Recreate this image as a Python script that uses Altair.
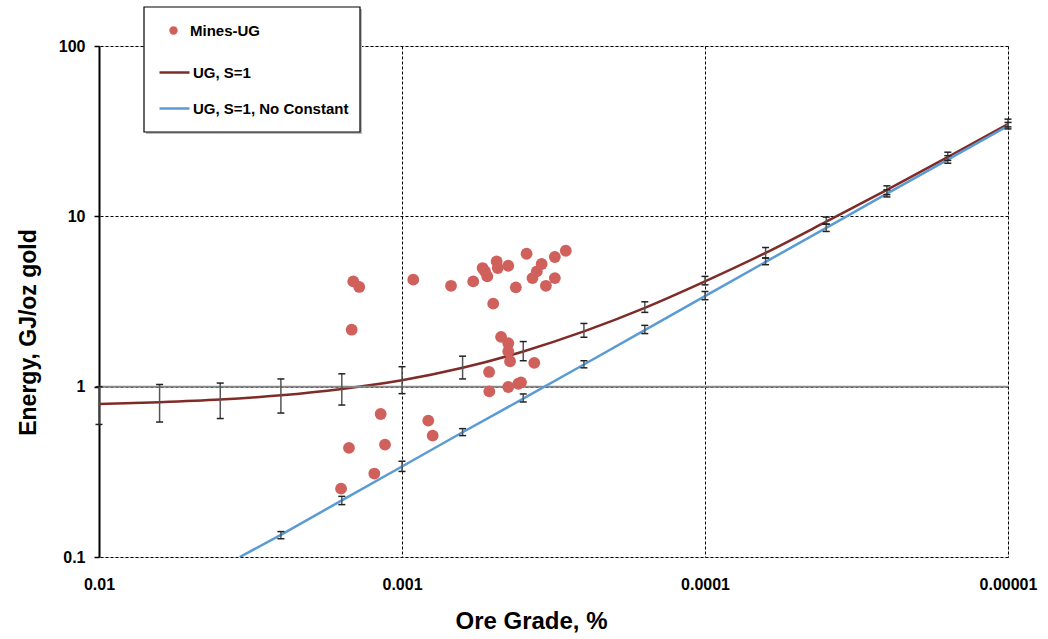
import altair as alt
import pandas as pd

# ---- data ----
mine_grade = [0.001448, 0.001384, 0.001466, 0.000918, 0.000689, 0.000582, 0.000542,
              0.000532, 0.000523, 0.000487, 0.000483, 0.000446, 0.000421, 0.000388,
              0.000371, 0.000359, 0.000346, 0.000335, 0.000313, 0.000313, 0.000288,
              0.000500, 0.000471, 0.000446, 0.000446, 0.000440, 0.000366, 0.000516,
              0.000515, 0.000446, 0.000413, 0.000405, 0.001176, 0.000819, 0.000792,
              0.001496, 0.001138, 0.001234, 0.001589]
mine_energy = [4.15, 3.85, 2.16, 4.25, 3.91, 4.15, 4.97, 4.75, 4.44, 5.44, 4.97, 5.13,
               3.83, 6.03, 4.34, 4.75, 5.25, 3.91, 4.34, 5.77, 6.28, 3.07, 1.96, 1.80,
               1.61, 1.41, 1.38, 1.22, 0.938, 0.996, 1.04, 1.06, 0.691, 0.632, 0.516,
               0.437, 0.457, 0.309, 0.252]

grade = [0.01, 0.00631, 0.00398, 0.00251, 0.00158, 0.001, 0.000631, 0.000398,
         0.000251, 0.000158, 0.0001, 6.31e-5, 3.98e-5, 2.51e-5, 1.58e-5, 1e-5]
ug_fit = [0.79, 0.81, 0.84, 0.89, 0.97, 1.09, 1.29, 1.61, 2.11, 2.9, 4.15, 6.1,
          9.3, 14.3, 22.3, 34.8]
ug_lo = [0.6, 0.62, 0.65, 0.70, 0.78, 0.91, 1.11, 1.42, 1.95, 2.73, 3.96, 5.69,
         9.0, 13.4, 21.3, 33.5]
ug_hi = [1.0, 1.03, 1.05, 1.11, 1.19, 1.31, 1.51, 1.84, 2.35, 3.15, 4.44, 6.56,
         9.9, 15.1, 23.8, 37.2]

nc_grade = [0.00343, 0.00251, 0.00158, 0.001, 0.000631, 0.000398, 0.000251,
            0.000158, 0.0001, 6.31e-5, 3.98e-5, 2.51e-5, 1.58e-5, 1e-5]
nc_fit = [0.1, 0.135, 0.215, 0.34, 0.54, 0.85, 1.35, 2.15, 3.4, 5.4, 8.55, 13.6,
          21.5, 34.0]
nc_bar_grade = nc_grade[1:]
nc_lo = [0.128, 0.203, 0.318, 0.516, 0.813, 1.29, 2.05, 3.24, 5.2, 8.15, 13.0,
         20.5, 32.6]
nc_hi = [0.141, 0.227, 0.365, 0.567, 0.906, 1.42, 2.29, 3.62, 5.7, 9.0, 14.3,
         22.7, 35.6]

point_series = ["Mines-UG"]
line_series = ["UG, S=1", "UG, S=1, No Constant"]
dot_color = "#d0605b"
line_colors = ["#7f2b27", "#5b9bd5"]

mines = pd.DataFrame({"grade": mine_grade, "energy": mine_energy, "series": point_series[0]})
ug = pd.DataFrame({"grade": grade, "energy": ug_fit, "series": line_series[0]})
nc = pd.DataFrame({"grade": nc_grade, "energy": nc_fit, "series": line_series[1]})
bars = pd.concat([
    pd.DataFrame({"grade": grade, "lo": ug_lo, "hi": ug_hi}),
    pd.DataFrame({"grade": nc_bar_grade, "lo": nc_lo, "hi": nc_hi}),
])

FONT = "Liberation Sans"

xscale = alt.Scale(type="log", domain=[1e-5, 0.01], reverse=True, nice=False)
yscale = alt.Scale(type="log", domain=[0.1, 100], nice=False)

xaxis = alt.Axis(values=[0.01, 0.001, 0.0001, 0.00001], format=".5~f",
                 grid=True, gridColor="black", gridDash=[3, 2], gridWidth=1,
                 domain=False, ticks=False, labelPadding=19,
                 labelFont=FONT, labelFontSize=16, labelFontWeight="bold",
                 labelColor="black", labelFlush=False,
                 title="Ore Grade, %", titleFont=FONT, titleFontSize=24,
                 titleFontWeight="bold", titleColor="black",
                 titleX=432, titleY=64, titleBaseline="middle", titleAlign="center")
yaxis = alt.Axis(values=[0.1, 1, 10, 100], format=".1~f",
                 grid=True, gridColor="black", gridDash=[3, 2], gridWidth=1,
                 domain=True, domainColor="black", domainWidth=2,
                 ticks=True, tickSize=5, tickColor="black", tickWidth=1.5,
                 labelPadding=9, labelFont=FONT, labelFontSize=16,
                 labelFontWeight="bold", labelColor="black", labelFlush=False,
                 title="Energy, GJ/oz gold", titleFont=FONT, titleFontSize=23,
                 titleFontWeight="bold", titleColor="black",
                 titleX=-71, titleY=286, titleAngle=270,
                 titleBaseline="middle", titleAlign="center")

pt_legend = alt.Legend(
    title=None, orient="none", legendX=67, legendY=-23, padding=0, zindex=2,
    symbolType="circle", symbolSize=70, symbolOpacity=1, symbolStrokeWidth=0,
    labelFont=FONT, labelFontSize=15, labelFontWeight="bold", labelColor="black",
    labelOffset=9)
ln_legend = alt.Legend(
    title=None, orient="none", legendX=59, legendY=10, padding=0, zindex=2,
    rowPadding=11, symbolType="stroke", symbolSize=900, symbolStrokeWidth=2.5,
    labelFont=FONT, labelFontSize=15, labelFontWeight="bold", labelColor="black",
    labelOffset=2)

fill_enc = alt.Fill("series:N", scale=alt.Scale(domain=point_series, range=[dot_color]),
                    legend=pt_legend)
stroke_enc = alt.Stroke("series:N", scale=alt.Scale(domain=line_series, range=line_colors),
                        legend=ln_legend)

X = alt.X("grade:Q", scale=xscale, axis=xaxis)
Y = alt.Y("energy:Q", scale=yscale, axis=yaxis)

legend_shadow = alt.Chart(pd.DataFrame({"a": [0]})).mark_rect(
    fill="#bbbbbb").encode(
    x=alt.value(47), x2=alt.value(263), y=alt.value(-37), y2=alt.value(88))
legend_box = alt.Chart(pd.DataFrame({"a": [0]})).mark_rect(
    fill="white", stroke="black", strokeWidth=1.2).encode(
    x=alt.value(45), x2=alt.value(261), y=alt.value(-39), y2=alt.value(86))

one_line = alt.Chart(pd.DataFrame({"v": [1]})).mark_rule(
    color="#8a8a8a", strokeWidth=2).encode(y=alt.Y("v:Q", scale=yscale))

ug_line = alt.Chart(ug).mark_line(strokeWidth=2.5, interpolate="monotone").encode(
    x=X, y=Y, stroke=stroke_enc)
nc_line = alt.Chart(nc).mark_line(strokeWidth=2.5, clip=True).encode(
    x=alt.X("grade:Q", scale=xscale), y=alt.Y("energy:Q", scale=yscale), stroke=stroke_enc)

stems = alt.Chart(bars).mark_rule(color="#555555", strokeWidth=1.5).encode(
    x=alt.X("grade:Q", scale=xscale), y=alt.Y("lo:Q", scale=yscale), y2="hi:Q")
caps_lo = alt.Chart(bars).mark_tick(orient="horizontal", size=7, thickness=1.5,
                                    color="#222222", opacity=1).encode(
    x=alt.X("grade:Q", scale=xscale), y=alt.Y("lo:Q", scale=yscale))
caps_hi = alt.Chart(bars).mark_tick(orient="horizontal", size=7, thickness=1.5,
                                    color="#222222", opacity=1).encode(
    x=alt.X("grade:Q", scale=xscale), y=alt.Y("hi:Q", scale=yscale))

pts = alt.Chart(mines).mark_circle(size=140, opacity=1).encode(
    x=alt.X("grade:Q", scale=xscale), y=alt.Y("energy:Q", scale=yscale), fill=fill_enc)

chart = alt.layer(ug_line, one_line, nc_line, stems, caps_lo, caps_hi, pts,
                  legend_shadow, legend_box).properties(
    width=909, height=511,
    autosize=alt.AutoSizeParams(type="none"),
    padding={"left": 99, "top": 46, "right": 40, "bottom": 82},
).configure_view(strokeWidth=0).configure(background="white")

chart.save("out.html", embed_options={"renderer": "svg", "actions": False})
